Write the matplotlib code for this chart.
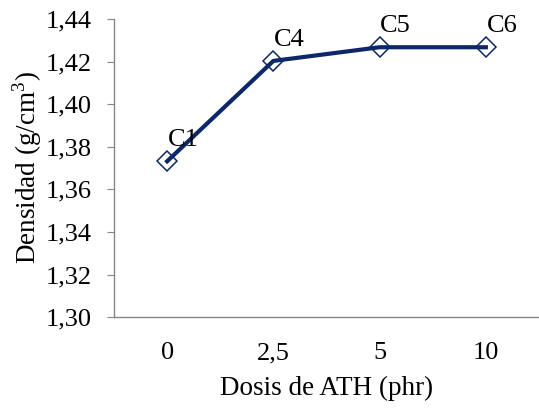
import matplotlib.pyplot as plt
from matplotlib.ticker import FuncFormatter

plt.rcParams['font.family'] = ['Liberation Serif', 'DejaVu Serif']
plt.rcParams['mathtext.fontset'] = 'custom'
plt.rcParams['mathtext.rm'] = 'Liberation Serif'

dosis = ['0', '2,5', '5', '10']
densidad = [1.3732, 1.4203, 1.4267, 1.4267]
etiquetas = ['C1', 'C4', 'C5', 'C6']

fig = plt.figure(figsize=(5.39, 4.11), dpi=100)
ax = fig.add_axes([0.2115, 0.228, 0.7885, 0.726])

x = range(len(dosis))
ax.plot(x, densidad, color='#0c2869', linewidth=3.0, marker='D', markersize=10,
        markerfacecolor='none', markeredgecolor='#0c2869', markeredgewidth=1.1)

for xi, yi, lab in zip(x, densidad, etiquetas):
    ax.annotate(lab, (xi, yi), xytext=(11.5, 11), textcoords='offset points',
                ha='center', va='baseline', fontsize=19)

ax.set_xlim(-0.5, 3.5)
ax.set_ylim(1.30, 1.44)
ax.set_yticks([1.30, 1.32, 1.34, 1.36, 1.38, 1.40, 1.42, 1.44])
ax.yaxis.set_major_formatter(FuncFormatter(lambda v, p: f'{v:.2f}'.replace('.', ',')))
ax.set_xticks(list(x))
ax.set_xticklabels(dosis)

for s in ['top', 'right']:
    ax.spines[s].set_visible(False)
for s in ['left', 'bottom']:
    ax.spines[s].set_color('#868686')
    ax.spines[s].set_linewidth(1.0)

ax.tick_params(axis='y', direction='out', length=5, color='#868686', labelsize=19, pad=11)
ax.tick_params(axis='x', length=0, labelsize=19, pad=18)

ax.set_xlabel('Dosis de ATH (phr)', fontsize=19.5, labelpad=8)
ax.set_ylabel('Densidad (g/cm$^3$)', fontsize=19.5, labelpad=1.5)

fig.savefig('out.png', dpi=100)
